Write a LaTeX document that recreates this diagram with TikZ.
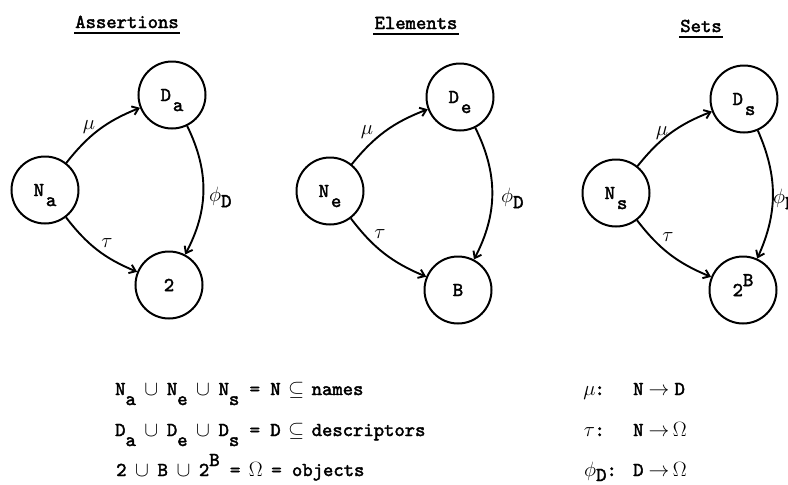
\documentclass[tikz,border=0pt]{standalone}
\usepackage{fontspec}
\newfontfamily\tw[FakeBold=2.2]{lmmono10-regular.otf}
\usetikzlibrary{arrows.meta}
\newcommand\lo[1]{\smash{\raisebox{-10pt}{#1}}}
\newcommand\hi[1]{\smash{\raisebox{10pt}{#1}}}
\newcommand\cw[1]{\makebox[0.525em]{#1}}
\newcommand\twf{\tw\fontsize{19.7}{24}\selectfont}
\tikzset{
  state/.style={circle, draw, line width=2pt, minimum size=67pt, inner sep=0pt, font=\twf},
  lab/.style={inner sep=0pt, font=\twf},
  conn/.style={line width=1.9pt, -{Straight Barb[length=6pt,width=9pt]}},
  ttl/.style={anchor=base, inner sep=0pt, font=\twf},
  uline/.style={line width=1.8pt},
  txt/.style={anchor=base west, inner sep=0pt, font=\twf}
}
\begin{document}
\begin{tikzpicture}[x=1pt,y=-1pt]
\path[use as bounding box, fill=white] (0,0) rectangle (788,485);

% titles
\node[ttl] (t1) at (127,28) {Assertions};
\node[ttl] (t2) at (416,29) {Elements};
\node[ttl] (t3) at (701,32) {Sets};
\foreach \t in {t1,t2,t3}
  \draw[uline] ([shift={(-1,5)}]\t.base west) -- ([shift={(1,5)}]\t.base east);

% Assertions
\node[state] (Na) at (45,190) {N\kern2pt\lo{a}};
\node[state] (Da) at (172,95) {D\kern2pt\lo{a}};
\node[state] (A2) at (169,285) {2};
\draw[conn] (Na) to[bend left=15] (Da);
\draw[conn] (Na) to[bend right=15] (A2);
\draw[conn] (Da) to[bend left=27] (A2);
\node[lab] (mua) at (89,127) {$\mu$};
\node[lab] (taua) at (107,243) {$\tau$};
\node[lab, anchor=west] (phia) at (209,196) {$\phi$\smash{\raisebox{-6pt}{D}}};

% Elements
\node[state] (Ne) at (330,191) {N\kern2pt\lo{e}};
\node[state] (De) at (460,97) {D\kern2pt\lo{e}};
\node[state] (EB) at (458,290) {B};
\draw[conn] (Ne) to[bend left=15] (De);
\draw[conn] (Ne) to[bend right=15] (EB);
\draw[conn] (De) to[bend left=27] (EB);
\node[lab] (mue) at (367,132) {$\mu$};
\node[lab] (taue) at (380,234) {$\tau$};
\node[lab, anchor=west] (phie) at (501,197) {$\phi$\smash{\raisebox{-6pt}{D}}};

% Sets
\node[state] (Ns) at (616,193) {N\kern2pt\lo{s}};
\node[state] (Ds) at (744,99) {D\kern2pt\lo{s}};
\node[state] (S2) at (743,290) {2\hi{B}};
\draw[conn] (Ns) to[bend left=15] (Ds);
\draw[conn] (Ns) to[bend right=15] (S2);
\draw[conn] (Ds) to[bend left=24] (S2);
\node[lab] (mus) at (662,133) {$\mu$};
\node[lab] (taus) at (668,237) {$\tau$};
\node[lab, anchor=west] (phis) at (773,198) {$\phi$\smash{\raisebox{-6pt}{D}}};

% bottom text, left
\node[txt] (l1) at (115,395) {N\lo{a} \cw{$\cup$} N\lo{e} \cw{$\cup$} N\lo{s} = N \cw{$\subseteq$} names};
\node[txt] (l2) at (115,436) {D\lo{a} \cw{$\cup$} D\lo{e} \cw{$\cup$} D\lo{s} = D \cw{$\subseteq$} descriptors};
\node[txt] (l3) at (116,476) {2 \cw{$\cup$} B \cw{$\cup$} 2\hi{B} = \cw{$\Omega$} = objects};

% bottom text, right
\node[txt] (r1a) at (584,395) {\cw{$\mu$}:};
\node[txt] (r1b) at (633,395) {N \cw{$\rightarrow$} D};
\node[txt] (r2a) at (584,436) {\cw{$\tau$}:};
\node[txt] (r2b) at (633,436) {N \cw{$\rightarrow$} \cw{$\Omega$}};
\node[txt] (r3a) at (584,476) {$\phi$\smash{\raisebox{-5pt}{D}}:};
\node[txt] (r3b) at (633,476) {D \cw{$\rightarrow$} \cw{$\Omega$}};
\end{tikzpicture}
\end{document}
